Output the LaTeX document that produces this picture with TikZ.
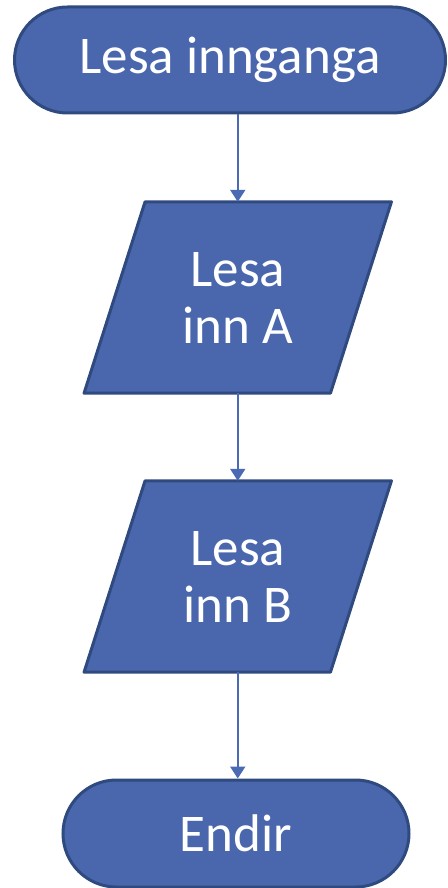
\documentclass[tikz,border=0pt]{standalone}
\usepackage{fontspec}
\setmainfont{Carlito}
\usetikzlibrary{shapes.misc,arrows.meta,calc,backgrounds}
\definecolor{boxfill}{HTML}{4A67AD}
\definecolor{boxline}{HTML}{2F4A7F}
\definecolor{arrowcol}{HTML}{4A6AB4}
\begin{document}
\begin{tikzpicture}[x=1pt,y=-1pt,
  termbox/.style={rounded rectangle, draw=boxline, fill=boxfill, line width=3pt,
    text=white, font=\fontsize{53}{57}\selectfont, inner sep=0pt},
  iobox/.style={rectangle, inner sep=0pt, text=white, align=center,
    font=\fontsize{53}{57}\selectfont, minimum width=246pt, minimum height=191pt},
  ioshape/.style={draw=boxline, fill=boxfill, line width=3pt, line join=round},
  flow/.style={draw=arrowcol, line width=2pt, -{Triangle[width=15pt,length=12pt]}}]
\useasboundingbox (0,0) rectangle (447,888);
\node[termbox, minimum width=431pt, minimum height=106pt] (start) at (230,60) {Lesa innganga};
\node[iobox] (A) at (237.75,297.5) {Lesa\\inn A};
\node[iobox] (B) at (237.75,576.5) {Lesa\\inn B};
\node[termbox, minimum width=346pt, minimum height=107pt] (end) at (236,833.5) {Endir};
\begin{pgfonlayer}{background}
\foreach \n in {A,B}{
  \draw[ioshape] ($(\n.north west)+(30.5,0)$) -- ($(\n.north east)+(30.5,0)$)
    -- ($(\n.south east)-(30.5,0)$) -- ($(\n.south west)-(30.5,0)$) -- cycle;
}
\end{pgfonlayer}
\draw[flow] (start.south -| A.north) -- (A.north);
\draw[flow] (A.south) -- (B.north);
\draw[flow] (B.south) -- (end.north -| B.south);
\end{tikzpicture}
\end{document}
